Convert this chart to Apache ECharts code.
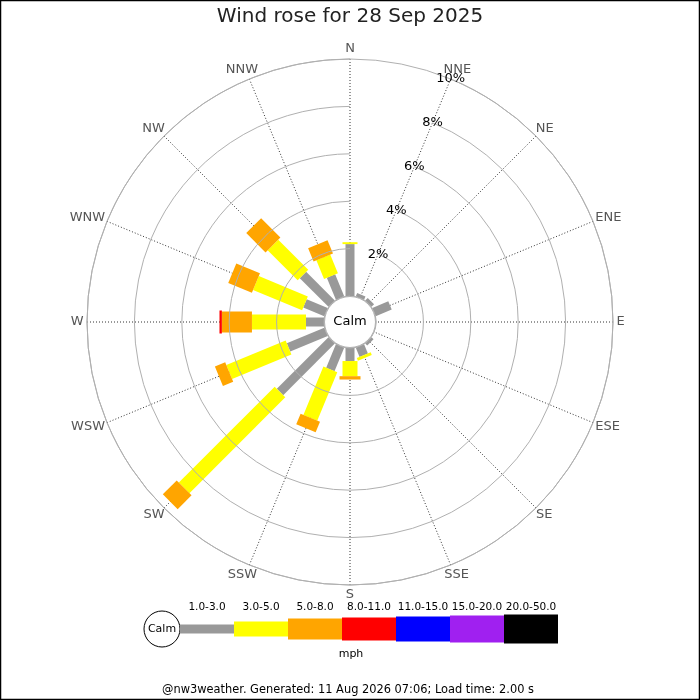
<!DOCTYPE html>
<html>
<head>
<meta charset="utf-8">
<script src="https://cdn.jsdelivr.net/npm/echarts@6/dist/echarts.min.js"></script>
<style>
html,body{margin:0;padding:0;background:#fff;}
#c{width:700px;height:700px;}
</style>
</head>
<body>
<div id="c"></div>
<script>
// ---- data ----
var titleText = 'Wind rose for 28 Sep 2025';
var footerText = '@nw3weather. Generated: 11 Aug 2026 07:06; Load time: 2.00 s';
var unitText = 'mph';
var calmText = 'Calm';
var dirs = ['N','NNE','NE','ENE','E','ESE','SE','SSE','S','SSW','SW','WSW','W','WNW','NW','NNW'];
var speedBands = ['1.0-3.0','3.0-5.0','5.0-8.0','8.0-11.0','11.0-15.0','15.0-20.0','20.0-50.0'];
// percentage of time per direction for each speed band (N-first order)
var band1 = [2.19,0.15,0.15,0.73,0,0,0.12,0.42,0.55,1.07,3.08,1.71,0.76,0.96,1.71,1.00];
var band2 = [0.08,0,0,0,0,0,0,0.12,0.64,2.21,5.72,2.71,2.28,2.24,1.79,0.85];
var band3 = [0,0,0,0,0,0,0,0,0.14,0.48,0.83,0.47,1.27,1.08,1.15,0.60];
var band4 = [0,0,0,0,0,0,0,0,0,0,0,0,0.10,0,0,0];
var band5 = [0,0,0,0,0,0,0,0,0,0,0,0,0,0,0,0];
var band6 = [0,0,0,0,0,0,0,0,0,0,0,0,0,0,0,0];
var band7 = [0,0,0,0,0,0,0,0,0,0,0,0,0,0,0,0];
var radialMax = 10;
var radialInterval = 2;

// ---- styles ----
var bandColors = ['#999999','#ffff00','#ffa500','#ff0000','#0000ff','#a020f0','#000000'];
var bandWidths = [9,15,21,23,25,27,29];
var FONT = 'DejaVu Sans';
var dirFont = '13px "DejaVu Sans"';

var bands = [band1,band2,band3,band4,band5,band6,band7];
// angle axis starts at NNE so the radius labels sit on the NNE spoke
var axisDirs = dirs.slice(1).concat(dirs.slice(0,1));

var barData = [];
dirs.forEach(function(d, i){
  var acc = 0;
  var aIdx = axisDirs.indexOf(d);
  bands.forEach(function(b, k){
    var v = b[i];
    if (v > 0) {
      barData.push([acc, acc + v, aIdx, k]);
      acc += v;
    }
  });
});

var chart = echarts.init(document.getElementById('c'), null, {renderer:'canvas'});

// legend graphics
var legendEls = [];
var lx0 = 180, lw = 54, ly = 629;
legendEls.push({type:'circle', shape:{cx:162, cy:ly, r:18}, style:{fill:'#fff', stroke:'#000', lineWidth:1}});
legendEls.push({type:'text', x:162, y:ly, style:{text:calmText, font:'11px "DejaVu Sans"', fill:'#000', align:'center', verticalAlign:'middle'}});
speedBands.forEach(function(lbl, k){
  var h = bandWidths[k];
  legendEls.push({type:'rect', shape:{x:lx0 + k*lw, y:ly - h/2, width:lw, height:h}, style:{fill:bandColors[k]}});
  legendEls.push({type:'text', x:lx0 + k*lw + lw/2, y:607, style:{text:lbl, font:'10.5px "DejaVu Sans"', fill:'#000', align:'center', verticalAlign:'middle'}});
});
legendEls.push({type:'text', x:351, y:654, style:{text:unitText, font:'11px "DejaVu Sans"', fill:'#000', align:'center', verticalAlign:'middle'}});

var baseGraphics = [
  {type:'circle', shape:{cx:350, cy:322, r:25.5}, style:{fill:'#fff', stroke:'#b0b0b0', lineWidth:1}, z: 20},
  {type:'text', x:350, y:322, style:{text:calmText, font:'13px "DejaVu Sans"', fill:'#000', align:'center', verticalAlign:'middle'}, z: 21},
  {type:'text', x:350, y:17, style:{text:titleText, font:'20px "DejaVu Sans"', fill:'#222', align:'center', verticalAlign:'middle'}},
  {type:'text', x:348, y:690, style:{text:footerText, font:'11.4px "DejaVu Sans"', fill:'#000', align:'center', verticalAlign:'middle'}},
  {type:'rect', shape:{x:0.5, y:0.5, width:699, height:699}, style:{fill:'none', stroke:'#000', lineWidth:1.5}, z: 30}
].concat(legendEls);

var option = {
  animation: false,
  backgroundColor: '#fff',
  polar: { center: [350, 322], radius: [26, 263] },
  angleAxis: {
    type: 'category',
    data: axisDirs,
    startAngle: 67.5,
    clockwise: true,
    boundaryGap: false,
    axisLine: { show: true, lineStyle: { color: '#b0b0b0', width: 1 } },
    axisTick: { show: false },
    axisLabel: { show: true, color: '#555', fontSize: 13, fontFamily: FONT, margin: 4 },
    splitLine: { show: true, lineStyle: { color: '#333', width: 1, type: [1, 2] } }
  },
  radiusAxis: {
    type: 'value',
    min: 0, max: radialMax, interval: radialInterval,
    axisLine: { show: false },
    axisTick: { show: false },
    axisLabel: {
      show: true, color: '#000', fontSize: 13, fontFamily: FONT, margin: 0,
      align: 'center', verticalAlign: 'middle',
      formatter: function(v){ return v === 0 ? '' : v + '%'; }
    },
    splitLine: { show: true, lineStyle: { color: '#b0b0b0', width: 1 } },
    z: 10
  },
  series: [{
    type: 'custom',
    coordinateSystem: 'polar',
    data: barData,
    encode: { radius: [0, 1], angle: 2 },
    renderItem: function(params, api){
      var s = api.value(0), e = api.value(1), a = api.value(2), b = api.value(3);
      var p0 = api.coord([s, a]), p1 = api.coord([e, a]);
      var cx = params.coordSys.cx, cy = params.coordSys.cy;
      var dx = p1[0] - cx, dy = p1[1] - cy, L = Math.sqrt(dx*dx + dy*dy) || 1;
      var ux = dx / L, uy = dy / L, w = bandWidths[b] / 2;
      var vx = -uy * w, vy = ux * w;
      return {
        type: 'polygon',
        shape: { points: [[p0[0]+vx, p0[1]+vy],[p1[0]+vx, p1[1]+vy],[p1[0]-vx, p1[1]-vy],[p0[0]-vx, p0[1]-vy]] },
        style: { fill: bandColors[b] }
      };
    },
    z: 5
  }],
  graphic: baseGraphics
};
chart.setOption(option);

// Reposition compass labels: centre of label = anchor + half-extent along the spoke direction
try {
  var c0 = chart.convertToPixel({polarIndex: 0}, [0, 0]);
  var cen = [350, 322];
  var ctx = document.createElement('canvas').getContext('2d');
  ctx.font = dirFont;
  var pad = 3.5, h = 13;
  var dirLabels = [];
  axisDirs.forEach(function(d, i){
    var p = chart.convertToPixel({polarIndex: 0}, [radialMax, i]);
    if (!p) throw new Error('no pixel');
    var dx = p[0] - cen[0], dy = p[1] - cen[1], L = Math.sqrt(dx*dx + dy*dy);
    var ux = dx / L, uy = dy / L;
    var w = ctx.measureText(d).width;
    var x = p[0] + ux * pad + ux * w / 2;
    var y = p[1] + uy * pad + uy * h / 2;
    dirLabels.push({type:'text', x:x, y:y, style:{text:d, font:dirFont, fill:'#555', align:'center', verticalAlign:'middle'}});
  });
  chart.setOption({
    angleAxis: { axisLabel: { show: false } },
    graphic: baseGraphics.concat(dirLabels)
  }, {replaceMerge: ['graphic']});
} catch (err) {
  // keep axis labels as drawn by the angle axis
}
</script>
</body>
</html>
